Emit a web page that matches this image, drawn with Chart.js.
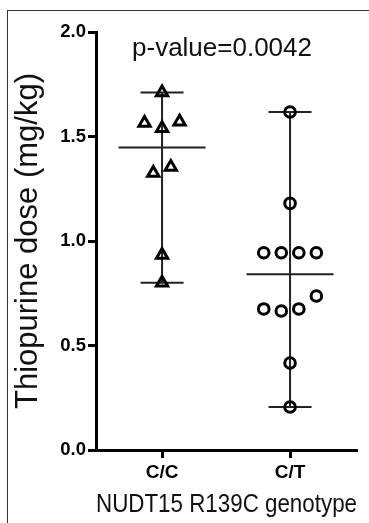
<!DOCTYPE html>
<html>
<head>
<meta charset="utf-8">
<script src="https://cdn.jsdelivr.net/npm/chart.js@4.4.1/dist/chart.umd.min.js"></script>
<style>
  html, body { margin: 0; padding: 0; background: #fff; }
  #wrap { position: relative; width: 369px; height: 523px; }
  #frame {
    position: absolute; left: 7px; top: 10px; right: 0; bottom: 0;
    border-top: 1px solid #333; border-left: 1px solid #333;
    pointer-events: none;
  }
</style>
</head>
<body>
<div id="wrap">
  <canvas id="dose-chart"></canvas>
  <div id="frame"></div>
</div>
<script>
// values
const genotypes = ["C/C", "C/T"];
const doseCC = [1.71, 1.565, 1.54, 1.57, 1.325, 1.354, 0.933, 0.80];
const doseCT = [1.617, 1.18, 0.944, 0.944, 0.944, 0.944, 0.675, 0.665, 0.675, 0.737, 0.416, 0.206];
const yTicks = [0, 0.5, 1.0, 1.5, 2.0];
const pValue = "0.0042";

const spread = 0.137; // horizontal gap between points sharing a level
const capHalf = 0.168;
const medianHalf = 0.34;

// simple swarm: neighbours with close values get spread sideways
function swarm(values, center) {
  const pts = [];
  let group = [];
  const flush = () => {
    group.forEach((v, i) => pts.push({ x: center + (i - (group.length - 1) / 2) * spread, y: v }));
    group = [];
  };
  values.forEach((v) => {
    if (group.length && Math.abs(v - group[group.length - 1]) > 0.1) flush();
    group.push(v);
  });
  flush();
  return pts;
}

const median = (arr) => {
  const s = [...arr].sort((a, b) => a - b);
  const m = Math.floor(s.length / 2);
  return s.length % 2 ? s[m] : (s[m - 1] + s[m]) / 2;
};

const segment = (x1, y1, x2, y2) => ({
  type: "scatter",
  data: [{ x: x1, y: y1 }, { x: x2, y: y2 }],
  showLine: true,
  pointRadius: 0,
  borderColor: "#222",
  borderWidth: 2,
});

// median + range lines for one group
function rangeLines(values, center) {
  const lo = Math.min(...values);
  const hi = Math.max(...values);
  const md = median(values);
  return [
    segment(center, lo, center, hi),
    segment(center - capHalf, hi, center + capHalf, hi),
    segment(center - capHalf, lo, center + capHalf, lo),
    segment(center - medianHalf, md, center + medianHalf, md),
  ];
}

const pValuePlugin = {
  id: "pvalue",
  afterDraw(chart) {
    const { ctx, chartArea } = chart;
    ctx.save();
    ctx.font = "26px 'Liberation Sans', Arial, sans-serif";
    ctx.fillStyle = "#111";
    ctx.textAlign = "center";
    ctx.textBaseline = "alphabetic";
    ctx.fillText("p-value=" + pValue, chartArea.left + 126, chartArea.top + 24);
    ctx.restore();
  },
};

new Chart(document.getElementById("dose-chart"), {
  type: "scatter",
  data: {
    datasets: [
      {
        label: genotypes[0],
        data: swarm(doseCC, 1),
        pointStyle: "triangle",
        pointRadius: 6.5,
        borderColor: "#000",
        backgroundColor: "rgba(0,0,0,0)",
        borderWidth: 3,
      },
      {
        label: genotypes[1],
        data: swarm(doseCT, 2),
        pointStyle: "circle",
        pointRadius: 5.3,
        borderColor: "#000",
        backgroundColor: "rgba(0,0,0,0)",
        borderWidth: 3,
      },
      ...rangeLines(doseCC, 1),
      ...rangeLines(doseCT, 2),
    ],
  },
  options: {
    responsive: true,
    maintainAspectRatio: false,
    animation: false,
    events: [],
    layout: { padding: { top: 32, right: 12, left: 0, bottom: 0 } },
    plugins: {
      legend: { display: false },
      tooltip: { enabled: false },
    },
    scales: {
      x: {
        type: "linear",
        min: 0.484,
        max: 2.523,
        afterBuildTicks: (scale) => {
          scale.ticks = genotypes.map((g, i) => ({ value: i + 1 }));
        },
        afterFit: (scale) => { scale.height = 73; },
        ticks: {
          callback: (v) => genotypes[Math.round(v) - 1],
          color: "#000",
          font: { family: "'Liberation Sans', Arial, sans-serif", size: 19, weight: "bold" },
          padding: 3,
          maxRotation: 0,
        },
        grid: { drawOnChartArea: false, drawTicks: true, tickLength: 8, tickWidth: 3, tickColor: "#000" },
        border: { color: "#000", width: 3 },
        title: {
          display: true,
          text: "NUDT15 R139C genotype",
          color: "#111",
          font: { family: "'Liberation Sans', Arial, sans-serif", size: 25.5 },
          padding: { top: 0, bottom: 3 },
        },
      },
      y: {
        min: 0,
        max: 2,
        afterBuildTicks: (scale) => {
          scale.ticks = yTicks.map((v) => ({ value: v }));
        },
        afterFit: (scale) => { scale.width = 96; },
        ticks: {
          callback: (v) => v.toFixed(1),
          color: "#000",
          font: { family: "'Liberation Sans', Arial, sans-serif", size: 18.5, weight: "bold" },
          padding: 2,
        },
        grid: { drawOnChartArea: false, drawTicks: true, tickLength: 8, tickWidth: 3, tickColor: "#000" },
        border: { color: "#000", width: 3 },
        title: {
          display: true,
          text: "Thiopurine dose (mg/kg)",
          color: "#111",
          font: { family: "'Liberation Sans', Arial, sans-serif", size: 31 },
          padding: { top: 10, bottom: 0 },
        },
      },
    },
  },
  plugins: [pValuePlugin],
});
</script>
</body>
</html>
